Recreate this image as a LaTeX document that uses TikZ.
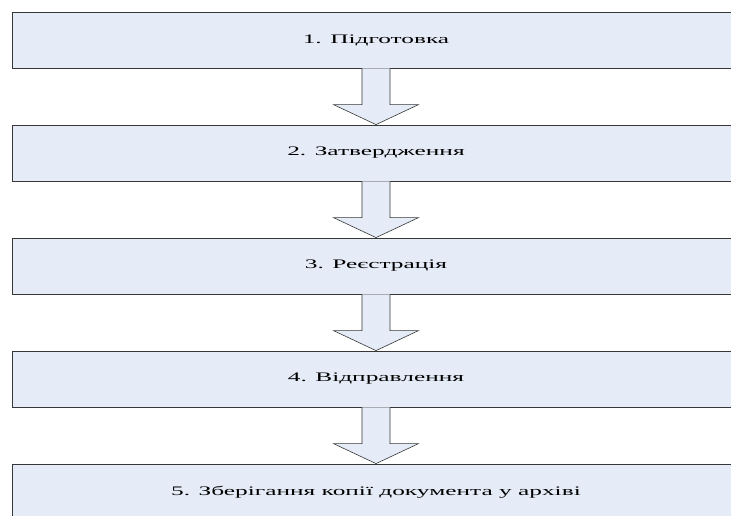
\documentclass[tikz,border=0pt]{standalone}
\usepackage{fontspec}
\setmainfont{Liberation Serif}
\usetikzlibrary{positioning,calc}
\definecolor{stagefill}{RGB}{229,236,247}
\definecolor{stageline}{RGB}{55,55,55}
\newcommand{\widetxt}[1]{\scalebox{1.95}[1]{#1}}

\begin{document}
\begin{tikzpicture}[node distance=113pt, x=1pt, y=1pt,
  stage/.style={rectangle, draw=stageline, fill=stagefill, line width=0.8pt, minimum width=728pt, minimum height=56pt, inner sep=0pt, font=\fontsize{13}{15}\selectfont},
  blockarrow/.style={draw=stageline, fill=stagefill, line width=0.6pt, line join=miter}]
\useasboundingbox (0,0) rectangle (731,-515);

% Stages
\node (s1) [stage] at (376,-40) {\widetxt{1. Підготовка}};
\node (s2) [stage, below of=s1] {\widetxt{2. Затвердження}};
\node (s3) [stage, below of=s2] {\widetxt{3. Реєстрація}};
\node (s4) [stage, below of=s3] {\widetxt{4. Відправлення}};
\node (s5) [stage, below of=s4] {\widetxt{5. Зберігання копії документа у архіві}};

% Arrows
\foreach \a/\b in {s1/s2,s2/s3,s3/s4,s4/s5}
  \draw[blockarrow] ([xshift=-14pt]\a.south) -- ($(\b.north)+(-14,20)$) -- ($(\b.north)+(-42.5,20)$)
    -- (\b.north) -- ($(\b.north)+(42.5,20)$) -- ($(\b.north)+(14,20)$) -- ([xshift=14pt]\a.south);
\end{tikzpicture}
\end{document}
